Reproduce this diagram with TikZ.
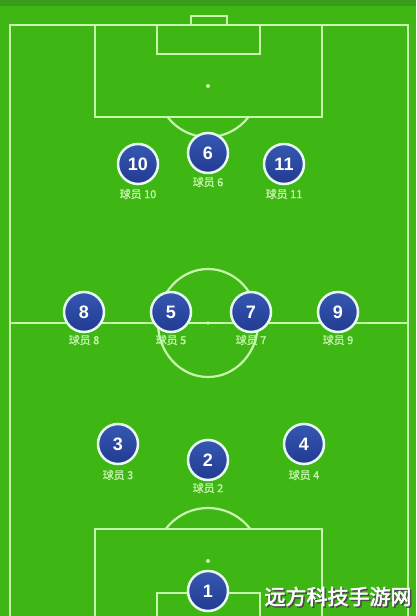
\documentclass[tikz,border=0pt]{standalone}
\usepackage{fontspec}
\setmainfont{Liberation Sans}
\newfontfamily\cjk[FakeBold=1.2]{Noto Sans CJK SC}
\newfontfamily\cjkbold[FakeBold=2.5]{Noto Sans CJK SC}
\begin{document}
\begin{tikzpicture}[x=1pt,y=-1pt,
  fieldline/.style={draw=linegreen, line width=2.2pt},
  player/.style={circle, minimum size=40pt, inner sep=0pt, draw=ringcol, line width=2.5pt,
    top color=pblue1, bottom color=pblue2, text=white, font=\bfseries\fontsize{18}{18}\selectfont},
  plabel/.style={text=labelgreen, font=\cjk\fontsize{11}{11}\selectfont, inner sep=0pt}]
\definecolor{grass}{RGB}{62,182,20}
\definecolor{grassdark}{RGB}{56,156,26}
\definecolor{linegreen}{RGB}{200,246,172}
\definecolor{labelgreen}{RGB}{200,244,176}
\definecolor{ringcol}{RGB}{232,250,240}
\definecolor{pblue1}{RGB}{54,88,178}
\definecolor{pblue2}{RGB}{34,58,146}
\useasboundingbox (0,0) rectangle (416,616);
\fill[grass] (0,0) rectangle (416,616);
\fill[grassdark] (0,0) rectangle (416,6);
% pitch
\draw[fieldline] (10,618) -- (10,25) -- (408,25) -- (408,618);
\draw[fieldline] (191,25) -- (191,16) -- (227,16) -- (227,25);
\draw[fieldline] (95,25) rectangle (322,117);
\draw[fieldline] (157,25) rectangle (260,54);
\fill[linegreen] (208,86) circle (2pt);
\begin{scope}
  \clip (0,117) rectangle (416,200);
  \draw[fieldline] (208,86) circle (51pt);
\end{scope}
\draw[fieldline] (10,323) -- (408,323);
\draw[fieldline] (208,323) ellipse (50pt and 54pt);
\fill[linegreen] (208,323) circle (1.8pt);
\draw[fieldline] (95,618) -- (95,529) -- (322,529) -- (322,618);
\draw[fieldline] (157,618) -- (157,593) -- (260,593) -- (260,618);
\fill[linegreen] (208,561) circle (2pt);
\begin{scope}
  \clip (0,440) rectangle (416,529);
  \draw[fieldline] (208,561) circle (53pt);
\end{scope}
% players
\node[player] (p10) at (138,164) {10};
\node[player] (p6)  at (208,153) {6};
\node[player] (p11) at (284,164) {11};
\node[player] (p8)  at (84,312) {8};
\node[player] (p5)  at (171,312) {5};
\node[player] (p7)  at (251,312) {7};
\node[player] (p9)  at (338,312) {9};
\node[player] (p3)  at (118,444) {3};
\node[player] (p2)  at (208,460) {2};
\node[player] (p4)  at (304,444) {4};
\node[player] (p1)  at (208,591) {1};
% labels
\node[plabel] (l10) at (138,194) {球员 10};
\node[plabel] (l6)  at (208,182) {球员 6};
\node[plabel] (l11) at (284,194) {球员 11};
\node[plabel] (l8)  at (84,340) {球员 8};
\node[plabel] (l5)  at (171,340) {球员 5};
\node[plabel] (l7)  at (251,340) {球员 7};
\node[plabel] (l9)  at (338,340) {球员 9};
\node[plabel] (l3)  at (118,475) {球员 3};
\node[plabel] (l2)  at (208,488) {球员 2};
\node[plabel] (l4)  at (304,475) {球员 4};
% watermark
\node[text=black!70, font=\cjkbold\fontsize{21}{21}\selectfont, inner sep=0pt] (wms) at (339.5,598) {远方科技手游网};
\node[text=white, font=\cjkbold\fontsize{21}{21}\selectfont, inner sep=0pt] (wm) at (338,596.5) {远方科技手游网};
\end{tikzpicture}
\end{document}
